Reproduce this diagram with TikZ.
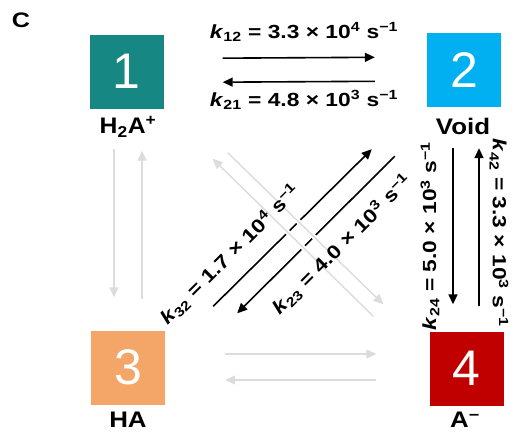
\documentclass[tikz,border=0pt]{standalone}
\usepackage{fontspec}
\setmainfont{Liberation Sans}
\usetikzlibrary{arrows.meta,positioning,calc}
\definecolor{tealbox}{RGB}{22,135,130}
\definecolor{bluebox}{RGB}{0,176,240}
\definecolor{orangebox}{RGB}{244,166,104}
\definecolor{redbox}{RGB}{192,0,0}
\definecolor{lightgrey}{RGB}{220,220,220}
\newcommand{\wide}[1]{\scalebox{1.2}[1]{#1}}
\newcommand{\rate}[3]{\wide{\textit{k}\textsubscript{#1} = #2 × 10\textsuperscript{#3} s\textsuperscript{−1}}}
\tikzset{
  statebox/.style ={minimum width=74pt,minimum height=74pt,inner sep=0pt,text=white,
                    font=\fontsize{50}{50}\selectfont},
  specname/.style ={font=\bfseries\fontsize{22.5}{23}\selectfont,inner sep=0pt},
  klab/.style     ={font=\bfseries\fontsize{19}{19}\selectfont,inner sep=0pt},
  kar/.style      ={line width=1.6pt,-{Triangle[length=10pt,width=9pt]}},
  gar/.style      ={kar,line width=1.4pt,draw=lightgrey,fill=lightgrey,
                    preaction={draw=white,line width=5pt,-}},
}
\begin{document}
\begin{tikzpicture}[x=1pt,y=-1pt]
  \useasboundingbox (0,0) rectangle (518,437);
  \node[font=\bfseries\fontsize{21}{21}\selectfont] (panel) at (21,20) {\wide{C}};

  % the four states
  \node[statebox,fill=tealbox]   (b1) at (126.5,71.5) {1};
  \node[statebox,fill=bluebox]   (b2) at (464,70)     {2};
  \node[statebox,fill=orangebox] (b3) at (128,367.5)  {3};
  \node[statebox,fill=redbox]    (b4) at (466.5,368.5){4};
  \node[specname] (n1) at (128,127) {\scalebox{1.1}[1]{H\textsubscript{2}A\textsuperscript{+}}};
  \node[specname] (n2) at (463,126) {\scalebox{1.15}[1]{Void}};
  \node[specname] (n3) at (128,420) {\scalebox{1.15}[1]{HA}};
  \node[specname] (n4) at (465,420) {\scalebox{1.15}[1]{A\textsuperscript{−}}};

  % measured rates
  \draw[kar] ([yshift=13pt]b1.east) -- ([yshift=13pt]b2.west)
    [shorten <=59pt,shorten >=52pt];
  \draw[kar] ([yshift=-11pt]b2.west) -- ([yshift=-11pt]b1.east)
    [shorten <=52pt,shorten >=59pt];
  \draw[kar] ([shift={(48pt,24pt)}]b3.north east) -- ([shift={(-55pt,-42pt)}]b2.south west);
  \draw[kar] ([shift={(-32pt,-49pt)}]b2.south west) -- ([shift={(72pt,17pt)}]b3.north east);
  \draw[kar] ([shift={(-11pt,-41pt)}]b2.south) -- ([shift={(-13.5pt,27pt)}]b4.north);
  \draw[kar] ([shift={(12.5pt,25pt)}]b4.north) -- ([shift={(15pt,-41pt)}]b2.south);

  % other transitions
  \draw[gar] ([shift={(-12.5pt,-40pt)}]b1.south) -- ([shift={(-14pt,33pt)}]b3.north);
  \draw[gar] ([shift={(14pt,31pt)}]b3.north) -- ([shift={(15.5pt,-42pt)}]b1.south);
  \draw[gar] ([shift={(-56pt,15pt)}]b4.north west) -- ([shift={(49pt,-50pt)}]b1.south east);
  \draw[gar] ([shift={(64pt,-44pt)}]b1.south east) -- ([shift={(-46pt,27pt)}]b4.north west);
  \draw[gar] ([shift={(60pt,13.5pt)}]b3.east) -- ([shift={(-53pt,14.5pt)}]b4.west);
  \draw[gar] ([shift={(-53pt,-11.5pt)}]b4.west) -- ([shift={(60pt,-12.5pt)}]b3.east);

  % rate labels
  \node[klab] (k12) at (304,32)  {\rate{12}{3.3}{4}};
  \node[klab] (k21) at (304,100) {\rate{21}{4.8}{3}};
  \node[klab,rotate=45] (k32) at (230,255) {\rate{32}{1.7}{4}};
  \node[klab,rotate=45] (k23) at (342,245) {\rate{23}{4.0}{3}};
  \node[klab,rotate=90]  (k24) at (430,236) {\rate{24}{5.0}{3}};
  \node[klab,rotate=-90] (k42) at (499,233) {\rate{42}{3.3}{3}};
\end{tikzpicture}
\end{document}
